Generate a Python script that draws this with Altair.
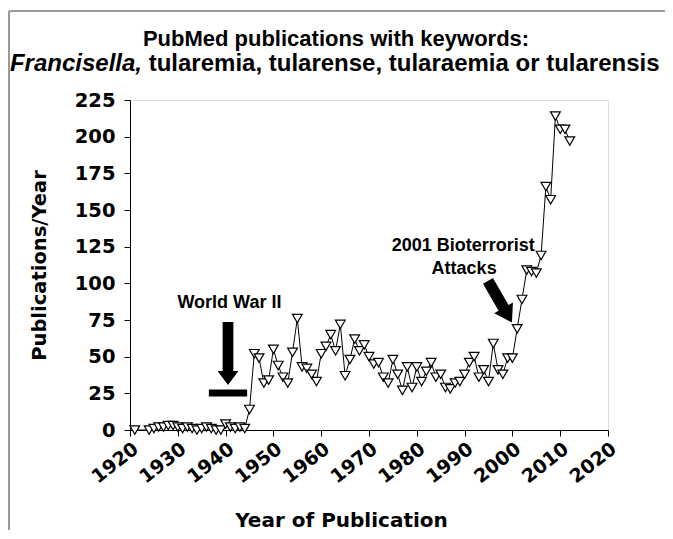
import altair as alt
import pandas as pd

# ---------------- data ----------------
years = [1921, 1924,
         1925, 1926, 1927, 1928, 1929, 1930, 1931, 1932, 1933, 1934,
         1935, 1936, 1937, 1938, 1939, 1940, 1941, 1942, 1943, 1944,
         1945, 1946, 1947, 1948, 1949, 1950, 1951, 1952, 1953, 1954,
         1955, 1956, 1957, 1958, 1959, 1960, 1961, 1962, 1963, 1964,
         1965, 1966, 1967, 1968, 1969, 1970, 1971, 1972, 1973, 1974,
         1975, 1976, 1977, 1978, 1979, 1980, 1981, 1982, 1983, 1984,
         1985, 1986, 1987, 1988, 1989, 1990, 1991, 1992, 1993, 1994,
         1995, 1996, 1997, 1998, 1999, 2000, 2001, 2002, 2003, 2004,
         2005, 2006, 2007, 2008, 2009, 2010, 2011, 2012]
pubs = [0, 0,
        1, 2, 2, 3, 3, 2, 1, 2, 1, 0,
        1, 2, 1, 0, 0, 4, 2, 1, 2, 1,
        14, 52, 49, 32, 34, 55, 44, 36, 32, 53,
        76, 43, 42, 38, 33, 52, 57, 65, 54, 72,
        37, 48, 62, 54, 58, 50, 45, 46, 36, 32,
        48, 38, 27, 43, 29, 43, 33, 40, 46, 36,
        38, 29, 28, 32, 33, 38, 46, 50, 36, 41,
        33, 59, 41, 38, 49, 49, 69, 89, 109, 108,
        107, 119, 166, 157, 214, 205, 205, 197]

x_ticks = [1920, 1930, 1940, 1950, 1960, 1970, 1980, 1990, 2000, 2010, 2020]
y_ticks = [0, 25, 50, 75, 100, 125, 150, 175, 200, 225]

# annotations
ww2_bar_x = [1936.5]
ww2_bar_x2 = [1944.5]
ww2_bar_y = [25.2]
ww2_arrow_x = [1940.5]
ww2_arrow_y = [52.2]
bio_arrow_x = [1997.4]
bio_arrow_y = [87.5]
ann_text = ["World War II", "2001 Bioterrorist", "Attacks"]
ann_x = [1940.8, 1989.7, 1989.9]
ann_y = [83.0, 122.0, 106.4]

df = pd.DataFrame({"year": years, "pubs": pubs})

W, H = 478, 330
FONT_AX = "DejaVu Sans"
FONT_TX = "Liberation Sans"

xscale = alt.Scale(domain=[1920, 2020], nice=False, zero=False)
yscale = alt.Scale(domain=[0, 225], nice=False)

xaxis = alt.Axis(values=x_ticks, format="d", labelAngle=322, labelAlign="right",
                 labelBaseline="top", labelFont=FONT_AX, labelFontWeight="bold",
                 labelFontSize=19, labelColor="black", labelPadding=3,
                 labelOverlap=False, labelFlush=False, labelBound=False,
                 tickColor="black", tickSize=6, domainColor="black", grid=False,
                 title="Year of Publication", titleFont=FONT_AX, titleFontWeight="bold",
                 titleFontSize=20, titleColor="black", titleX=211, titleY=90,
                 titleBaseline="middle", titleAlign="center")
yaxis = alt.Axis(values=y_ticks, tickCount=10, labelFont=FONT_AX, labelFontWeight="bold",
                 labelFontSize=19.5, labelColor="black", labelPadding=9,
                 labelOverlap=False, labelFlush=False, labelBound=False,
                 tickColor="black", tickSize=6, domainColor="black", grid=False,
                 title="Publications/Year", titleFont=FONT_AX, titleFontWeight="bold",
                 titleFontSize=19.5, titleColor="black", titleX=-91, titleY=165,
                 titleBaseline="middle", titleAlign="center", titleAngle=270)


def XE(field):
    return alt.X(field, type="quantitative", scale=xscale, axis=xaxis)


def YE(field):
    return alt.Y(field, type="quantitative", scale=yscale, axis=yaxis)


base = alt.Chart(df)

line = base.mark_line(color="black", strokeWidth=1).encode(x=XE("year"), y=YE("pubs"))
points = base.mark_point(shape="triangle-down", filled=True, fill="white",
                         stroke="black", strokeWidth=1.2, size=95, opacity=1).encode(
    x=XE("year"), y=YE("pubs"))

bar_df = pd.DataFrame({"x": ww2_bar_x, "x2": ww2_bar_x2, "y": ww2_bar_y})
ww2_bar = alt.Chart(bar_df).mark_rule(color="black", strokeWidth=7, strokeCap="butt").encode(
    x=XE("x"), x2="x2:Q", y=YE("y"))

ARROW_V = "M-0.17,-1L0.17,-1L0.17,0.56L0.33,0.56L0,1L-0.33,0.56L-0.17,0.56Z"
ARROW_D = "M-0.24,-1L0.24,-1L0.24,0.3L0.45,0.3L0,1L-0.45,0.3L-0.24,0.3Z"

a1_df = pd.DataFrame({"x": ww2_arrow_x, "y": ww2_arrow_y})
arrow1 = alt.Chart(a1_df).mark_point(shape=ARROW_V, filled=True, color="black",
                                      size=3969, opacity=1, strokeWidth=0).encode(
    x=XE("x"), y=YE("y"))
a2_df = pd.DataFrame({"x": bio_arrow_x, "y": bio_arrow_y})
arrow2 = alt.Chart(a2_df).mark_point(shape=ARROW_D, filled=True, color="black",
                                      size=2300, opacity=1, strokeWidth=0, angle=330).encode(
    x=XE("x"), y=YE("y"))

ann_df = pd.DataFrame({"t": ann_text, "x": ann_x, "y": ann_y})
ann = alt.Chart(ann_df).mark_text(font=FONT_TX, fontWeight="bold", fontSize=18,
                                  color="black", align="center", baseline="alphabetic").encode(
    x=XE("x"), y=YE("y"), text="t:N")

# title (two lines, mixed italic)
t1 = alt.Chart(pd.DataFrame({"t": ["PubMed publications with keywords:"]})).mark_text(
    font=FONT_TX, fontWeight="bold", fontSize=22, color="black",
    align="center", baseline="alphabetic").encode(
    x=alt.value(206), y=alt.value(-54), text="t:N")
t2a = alt.Chart(pd.DataFrame({"t": ["Francisella,"]})).mark_text(
    font=FONT_TX, fontWeight="bold", fontStyle="italic", fontSize=24, color="black",
    align="right", baseline="alphabetic").encode(
    x=alt.value(12), y=alt.value(-29), text="t:N")
t2b = alt.Chart(pd.DataFrame({"t": ["tularemia, tularense, tularaemia or tularensis"]})).mark_text(
    font=FONT_TX, fontWeight="bold", fontSize=24, color="black",
    align="left", baseline="alphabetic").encode(
    x=alt.value(18.7), y=alt.value(-29), text="t:N")

# grey frame of the slide
frame_top = alt.Chart(pd.DataFrame({"k": [0]})).mark_rule(color="#9a9a9a", strokeWidth=2).encode(
    x=alt.value(-121), x2=alt.value(540), y=alt.value(-89))
frame_left = alt.Chart(pd.DataFrame({"k": [0]})).mark_rule(color="#9a9a9a", strokeWidth=2).encode(
    x=alt.value(-121), y=alt.value(-89), y2=alt.value(430))

chart = alt.layer(frame_top, frame_left, line, points, ww2_bar, arrow1, arrow2, ann,
                  t1, t2a, t2b).properties(
    width=W, height=H,
    autosize=alt.AutoSizeParams(type="none"),
    padding={"left": 122, "top": 92, "right": 57, "bottom": 100},
).configure_view(stroke="black", strokeWidth=1.2).configure(background="white")

chart.save("out.html", embed_options={"renderer": "svg", "actions": False})
